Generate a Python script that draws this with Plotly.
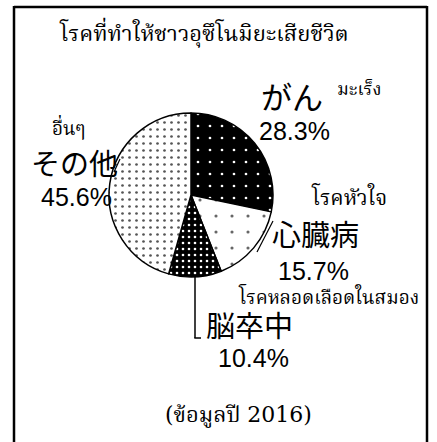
import plotly.graph_objects as go

W, H = 437, 442

categories = ["がん", "心臓病", "脳卒中", "その他"]
thai_names = ["มะเร็ง", "โรคหัวใจ", "โรคหลอดเลือดในสมอง", "อื่นๆ"]
values = [28.3, 15.7, 10.4, 45.6]
title_text = "โรคที่ทำให้ชาวอุซึโนมิยะเสียชีวิต"
source_text = "(ข้อมูลปี 2016)"

def px(x):
    return x / W

def py(y):
    return 1 - y / H

THAI = "DejaVu Serif, Noto Serif Thai, serif"
JP = "Noto Sans CJK JP"
NUM = "Liberation Sans, Arial, sans-serif"

fig = go.Figure()
fig.add_trace(go.Pie(
    labels=categories,
    values=values,
    sort=False,
    direction="clockwise",
    rotation=0,
    textinfo="none",
    hoverinfo="label+value",
    showlegend=False,
    domain=dict(x=[px(109), px(273)], y=[py(277), py(113)]),
    marker=dict(
        colors=["black", "white", "black", "white"],
        line=dict(color="black", width=1.5),
        pattern=dict(
            shape=[".", ".", ".", "."],
            bgcolor=["black", "white", "black", "white"],
            fgcolor=["white", "#666666", "white", "#555555"],
            size=[12, 16, 6, 7],
            solidity=[0.04, 0.03, 0.15, 0.12],
        ),
    ),
))

ann = []
def t(x, y, text, size, family, color="black"):
    ann.append(dict(x=px(x), y=py(y), xref="paper", yref="paper", text=text,
                    showarrow=False, xanchor="center", yanchor="middle",
                    font=dict(size=size, family=family, color=color)))

t(204, 33, title_text, 22, THAI)
t(292, 95, categories[0], 31, JP)
t(359, 89, thai_names[0], 18, THAI)
t(294, 131, f"{values[0]}%", 25, NUM)
t(349, 196, thai_names[1], 21, THAI)
t(315, 233, categories[1], 29, JP)
t(313, 271, f"{values[1]}%", 25, NUM)
t(328, 295, thai_names[2], 19, THAI)
t(249, 324, categories[2], 29, JP)
t(253, 358, f"{values[2]}%", 25, NUM)
t(69, 127, thai_names[3], 19, THAI)
t(74, 162, categories[3], 29, JP)
t(76, 197, f"{values[3]}%", 25, NUM)
t(238, 415, source_text, 22, THAI)

def line(x0, y0, x1, y1, w=1.2):
    return dict(type="line", xref="paper", yref="paper",
                x0=px(x0), y0=py(y0), x1=px(x1), y1=py(y1),
                line=dict(color="black", width=w))

shapes = [
    line(14, 7, 427, 7, 2.5),
    line(14, 6, 14, 442, 2.5),
    line(427, 6, 427, 442, 2.5),
    line(114, 172, 120, 159),
    line(257, 252, 273, 221),
    line(195, 276, 195, 338, 1.5),
    line(194.3, 338, 201, 338, 1.5),
]

fig.update_layout(
    width=W, height=H,
    margin=dict(l=0, r=0, t=0, b=0),
    paper_bgcolor="white", plot_bgcolor="white",
    annotations=ann, shapes=shapes,
)

fig.write_html("out.html", config={"displayModeBar": False},
               post_script="document.body.style.margin='0px';document.body.style.overflow='hidden';")
